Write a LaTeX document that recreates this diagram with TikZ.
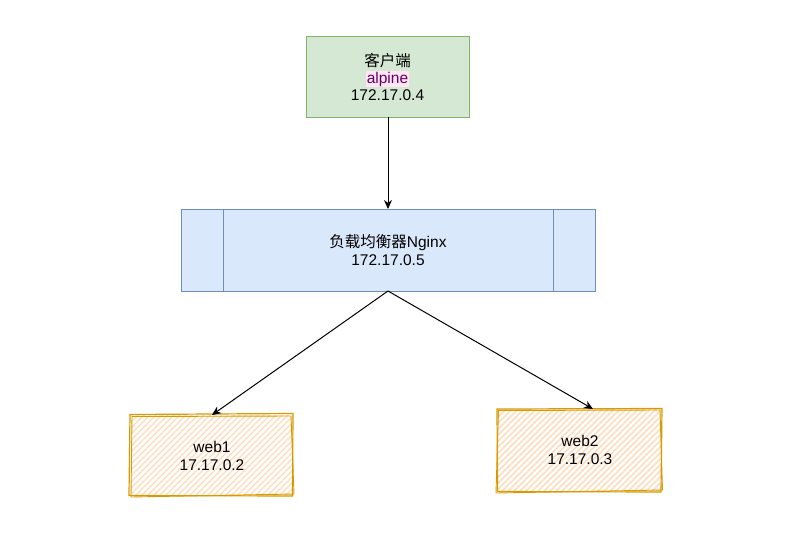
\documentclass[tikz,border=0pt]{standalone}
\usepackage{fontspec}
\setmainfont{Liberation Sans}
\newfontfamily\cjk{Noto Sans CJK SC}
\usetikzlibrary{arrows.meta}
\definecolor{cfill}{HTML}{D5E8D4}
\definecolor{cline}{HTML}{82B366}
\definecolor{nfill}{HTML}{DAE8FC}
\definecolor{nline}{HTML}{6C8EBF}
\definecolor{hfill}{HTML}{FFD9B8}
\definecolor{wline}{HTML}{D79B00}
\definecolor{alp}{HTML}{660066}
\definecolor{alpbg}{HTML}{FFE6F2}
\tikzset{
  lbl/.style={font=\fontsize{15.5}{18}\selectfont, align=center, text=black},
  conn/.style={draw=black, line width=1pt, -{Stealth[length=9pt,width=8pt]}},
  hatch/.style={path picture={
    \foreach \k in {-200,-194,...,200}{
      \draw[hfill, line width=1.4pt] ([xshift=\k pt]path picture bounding box.south west) -- ++(100pt,100pt);
    }}},
}
\begin{document}
\begin{tikzpicture}[x=1pt,y=-1pt]
\useasboundingbox (0,0) rectangle (807,547);
% client
\draw[fill=cfill, draw=cline, line width=1pt] (306,36) rectangle (469,117);
\node[lbl] (client) at (387.5,76.5) {{\cjk 客户端}\\[-1pt]\textcolor{alp}{\setlength{\fboxsep}{0.5pt}\colorbox{alpbg}{alpine}}\\[-1pt]172.17.0.4};
\coordinate (cbot) at (388,117);
% nginx
\draw[fill=nfill, draw=nline, line width=1pt] (181,209) rectangle (595,291);
\draw[nline, line width=1pt] (223,209) -- (223,291) (553,209) -- (553,291);
\node[lbl] (nginx) at (388,250) {{\cjk 负载均衡器}Nginx\\172.17.0.5};
\coordinate (ntop) at (388,209);
\coordinate (nbot) at (388,291);
% web1
\fill[white] (131,415) rectangle (293,496);
\path[hatch] (131,415) rectangle (293,496);
\draw[wline, line width=1.2pt] (130,414.5) -- (293,413.5) -- (292.5,496) -- (129,495.5) -- cycle;
\draw[wline, line width=0.9pt] (132,416.5) -- (291,416) -- (294,494) -- (131,497) -- cycle;
\node[lbl] (web1) at (212,456) {web1\\17.17.0.2};
\coordinate (w1top) at (212,415);
% web2
\fill[white] (497,409) rectangle (662,492);
\path[hatch] (497,409) rectangle (662,492);
\draw[wline, line width=1.2pt] (497,409) -- (662,408.5) -- (661,492) -- (497.5,491.5) -- cycle;
\draw[wline, line width=0.9pt] (498.5,410.5) -- (660,410) -- (662.5,490) -- (496,493) -- cycle;
\node[lbl] (web2) at (580,450) {web2\\17.17.0.3};
\coordinate (w2top) at (593,409);
% connectors
\draw[conn] (cbot) -- (ntop);
\draw[conn] (nbot) -- (w1top);
\draw[conn] (nbot) -- (w2top);
\end{tikzpicture}
\end{document}
